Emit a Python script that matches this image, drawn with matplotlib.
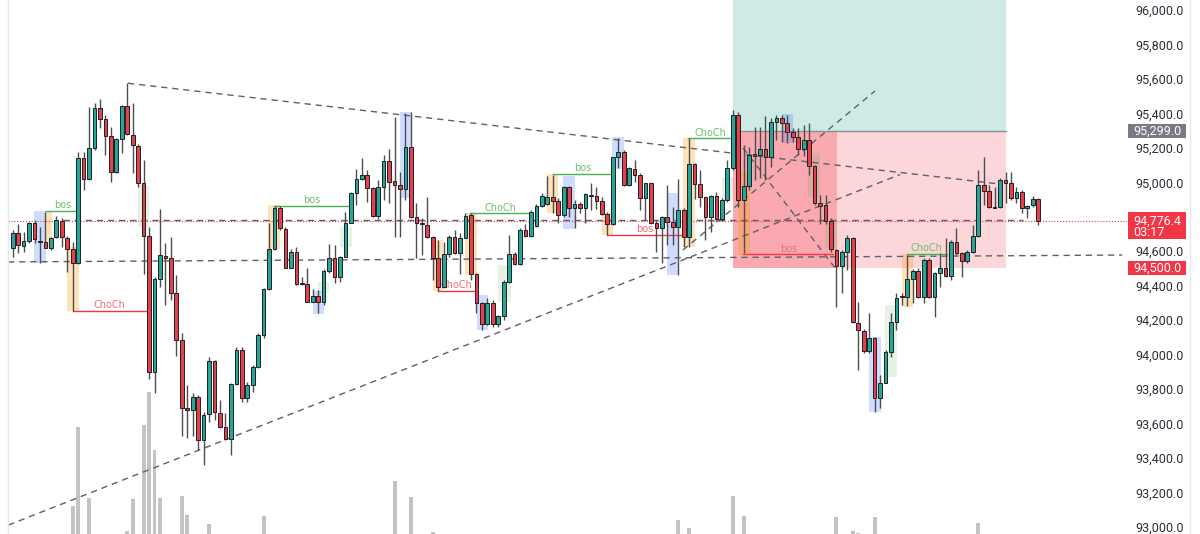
import matplotlib
matplotlib.use("Agg")
import matplotlib.pyplot as plt
import matplotlib.transforms as mtransforms
from matplotlib.patches import Rectangle
from matplotlib.lines import Line2D
import numpy as np

# ---------------- data ----------------
opens = [94617,94704,94633,94660,94766,94662,94652,94621,94681,94778,
         94679,94612,94530,95143,95018,95198,95430,95366,95269,95062,
         95250,95443,95275,95213,94994,94691,93902,94439,94575,94559,
         94356,94085,93689,93679,93757,93505,93654,93964,93664,93583,
         93509,93830,94027,93747,93824,93931,94114,94379,94612,94853,
         94729,94505,94598,94410,94410,94308,94341,94308,94488,94559,
         94453,94569,94766,94936,95018,95043,94965,94805,94975,95124,
         95008,94985,94960,95203,94797,94766,94753,94685,94559,94391,
         94583,94685,94592,94679,94811,94468,94298,94178,94298,94178,
         94225,94424,94583,94526,94724,94689,94747,94863,94875,94917,
         94892,94811,94971,94853,94875,94849,94927,94921,94892,94815,
         94759,95149,95178,94985,95078,95043,94907,94995,94762,94733,
         94801,94768,94739,94840,94681,95107,94990,94913,94801,94921,
         94786,94898,95081,95391,94898,94979,95163,95159,95192,95145,
         95352,95372,95343,95294,95265,95192,95246,95095,94878,94869,
         94778,94608,94517,94598,94675,94186,94140,94024,94095,93747,
         93838,94018,94192,94333,94337,94437,94487,94333,94549,94337,
         94476,94505,94456,94656,94592,94545,94598,94689,94984,94952,
         94859,94855,95013,94994,94907,94946,94849,94868,94901]
highs = [94724,94759,94714,94772,94782,94743,94830,94685,94805,94791,
         94689,94652,95178,95178,95435,95459,95482,95391,95323,95256,
         95449,95575,95462,95223,95130,94743,94453,94844,94646,94685,
         94463,94124,93824,93776,93766,93670,93989,93969,93737,93660,
         93834,94047,94047,93844,93940,94124,94385,94762,94863,94863,
         94743,94612,94623,94453,94501,94379,94376,94495,94642,94637,
         94573,94830,94946,95076,95139,95072,94975,95014,95159,95192,
         95381,95062,95401,95410,94878,94791,94913,94689,94666,94656,
         94695,94724,94704,94820,94820,94472,94308,94327,94318,94231,
         94434,94695,94598,94733,94759,94840,94875,94936,95037,95043,
         94907,94979,94979,94898,94888,94936,94995,94975,94913,94830,
         95149,95255,95188,95091,95130,95052,94998,94998,94782,94805,
         94985,94859,95018,94849,95255,95110,95072,94917,94927,94946,
         94907,95130,95420,95410,95217,95207,95323,95323,95385,95372,
         95391,95391,95391,95314,95314,95333,95343,95101,94927,94927,
         94791,94612,94608,94695,94681,94308,94147,94240,94101,93882,
         94027,94240,94356,94356,94578,94495,94501,94559,94559,94482,
         94588,94675,94666,94733,94598,94607,94752,95071,95145,94984,
         94975,95023,95062,95062,94975,94955,94868,94921,94907]
lows = [94569,94592,94598,94646,94646,94534,94617,94608,94675,94627,
        94482,94256,94526,94956,95014,95188,95313,95159,95004,95052,
        95172,95275,95056,94975,94468,93859,93776,94395,94289,94318,
        93993,93525,93515,93525,93447,93360,93612,93621,93573,93505,
        93418,93824,93728,93728,93786,93921,94095,94376,94608,94724,
        94501,94501,94405,94405,94308,94304,94240,94288,94472,94414,
        94424,94565,94762,94869,95014,94888,94801,94790,94898,94882,
        94685,94681,94898,94791,94559,94579,94675,94434,94372,94385,
        94569,94584,94468,94675,94434,94240,94143,94172,94163,94163,
        94202,94418,94521,94521,94681,94685,94743,94859,94869,94824,
        94762,94801,94801,94733,94820,94766,94840,94844,94811,94695,
        94753,95081,94979,94979,95004,94840,94782,94759,94598,94534,
        94637,94637,94465,94627,94627,94902,94855,94665,94714,94778,
        94778,94888,95072,94859,94588,94956,95014,95023,95014,95091,
        95246,95236,95230,95236,95159,95153,95043,94869,94759,94759,
        94598,94279,94356,94492,94186,93911,94008,94008,93670,93689,
        93834,93989,94143,94288,94282,94298,94327,94302,94327,94220,
        94395,94449,94433,94578,94449,94534,94592,94685,94868,94849,
        94849,94849,94878,94897,94878,94820,94791,94859,94752]
closes = [94708,94637,94658,94766,94670,94654,94621,94679,94782,94681,
          94612,94530,95139,95018,95198,95430,95366,95269,95062,95250,
          95443,95279,95215,94994,94691,93902,94439,94579,94559,94356,
          94085,93689,93679,93757,93505,93650,93964,93670,93583,93509,
          93828,94027,93747,93824,93931,94114,94379,94612,94853,94733,
          94505,94598,94408,94408,94308,94341,94308,94488,94559,94453,
          94565,94766,94936,95018,95043,94965,94805,94975,95124,95004,
          94985,94960,95203,94797,94766,94759,94685,94559,94391,94583,
          94685,94592,94679,94805,94468,94298,94178,94298,94178,94225,
          94424,94583,94526,94724,94689,94830,94863,94921,94913,94892,
          94811,94971,94853,94875,94849,94931,94923,94892,94815,94759,
          95145,95178,94985,95081,95043,94907,94995,94762,94733,94801,
          94768,94739,94840,94681,95107,94990,94913,94801,94921,94786,
          94898,95081,95391,94898,94979,95159,95155,95192,95145,95352,
          95372,95343,95294,95265,95192,95246,95095,94878,94863,94778,
          94612,94517,94598,94675,94192,94143,94024,94095,93747,93838,
          94018,94192,94327,94337,94437,94487,94333,94549,94337,94476,
          94505,94456,94656,94592,94545,94598,94689,94984,94952,94855,
          94853,95013,94994,94907,94946,94849,94863,94901,94776.4]

# visible volume bars (bar index, volume)
vol_idx = [11, 12, 14, 21, 22, 24, 25, 26, 27, 31, 32, 36, 46, 70, 73, 77,
           122, 124, 132, 134, 151, 154, 155, 158, 177]
vol_val = [283, 1067, 363, 30, 350, 1087, 1420, 840, 363, 380, 190, 100, 180,
           530, 370, 17, 140, 60, 383, 180, 173, 33, 10, 173, 113]

price_ticks = list(range(93000, 96001, 200))

# order-block style boxes: (start bar, end bar, low, high)
blue_boxes = [(3.96, 6.05, 94532, 94834), (55.0, 57.07, 94236, 94371),
              (71.0, 73.14, 94907, 95410), (85.06, 87.08, 94143, 94346),
              (100.94, 103.08, 94727, 95037), (109.92, 112.06, 95077, 95261),
              (119.89, 122.02, 94462, 94936), (140.97, 143.1, 95230, 95396),
              (156.98, 159.12, 93669, 94101)]
orange_boxes = [(6.05, 7.15, 94617, 94834), (10.01, 12.15, 94255, 94626),
                (46.86, 49.0, 94611, 94868), (77.0, 78.94, 94371, 94665),
                (82.92, 85.17, 94462, 94820), (97.89, 100.0, 94820, 95048),
                (107.97, 110.1, 94694, 94820), (122.93, 125.08, 94626, 95255),
                (133.02, 135.16, 94578, 95062), (162.97, 165.1, 94278, 94584)]
green_boxes = [(23.0, 24.99, 94742, 94984), (60.0, 62.14, 94626, 94742),
               (55.97, 57.99, 94358, 94423), (89.02, 91.29, 94307, 94520),
               (129.97, 132.1, 94897, 95033), (145.8, 148.0, 94915, 95170),
               (148.9, 151.05, 94617, 94772), (159.9, 162.05, 93872, 94288)]

# structure breaks
struct_start = [6.05, 11.0, 47.96, 83.83, 78.02, 99.1, 108.9, 123.85, 133.93, 163.9]
struct_end = [12.15, 24.56, 61.83, 94.83, 84.75, 109.99, 122.93, 132.1, 150.43, 171.2]
struct_price = [94834, 94255, 94864, 94820, 94371, 95048, 94694, 95255, 94582, 94584]
struct_label = ["bos", "ChoCh", "bos", "ChoCh", "ChoCh", "bos", "bos", "ChoCh", "bos", "ChoCh"]
struct_bull = [True, False, True, True, False, True, False, True, False, True]

# dashed trend lines: (bar0, price0, bar1, price1)
trend_lines = [(21.14, 95575, 181.0, 94990),
               (-0.8, 93011, 162.66, 95045),
               (122.87, 94607, 158.08, 95530),
               (133.9, 95199, 150.75, 94503)]
hlines_dashed = [(9.22, 94781, 185.2, 94781),
                 (-0.86, 94538, 203.4, 94578)]

# position tool
pos_start, pos_end = 132.05, 182.1
entry_price = 95299.0
stop_price = 94500.0
tp_top = 96100
dark_end = 151.05
last_price = 94776.4
countdown = "03:17"

# ---------------- figure ----------------
W, H = 1200, 534
fig = plt.figure(figsize=(W / 100, H / 100), dpi=100)
fig.patch.set_facecolor("white")
axw = 1127 / W
axv = fig.add_axes([0, 0, axw, 1])
ax = fig.add_axes([0, 0, axw, 1], sharex=axv)
ax.patch.set_alpha(0)
xmin, xmax = -2.328, 204.27
ymin, ymax = 92959.2, 96058
ax.set_xlim(xmin, xmax)
ax.set_ylim(ymin, ymax)

# volume
axv.bar(vol_idx, vol_val, width=0.72, color="#c3c3c3", zorder=1)
axv.set_ylim(0, 5340)
axv.axis("off")

for s in ax.spines.values():
    s.set_visible(False)
ax.tick_params(axis="x", bottom=False, labelbottom=False)
ax.yaxis.tick_right()
ax.set_yticks(price_ticks)
# the 94,800 label sits under the last-price tag, so it is hidden there
ax.set_yticklabels(["" if abs(p - last_price) < 60 else f"{p:,.1f}" for p in price_ticks])
ax.tick_params(axis="y", length=0, pad=6, labelsize=9, labelcolor="#2a2e39")
for lab in ax.get_yticklabels():
    lab.set_fontfamily(["Roboto", "DejaVu Sans"])

# position zones
ax.add_patch(Rectangle((pos_start, entry_price), pos_end - pos_start, tp_top - entry_price,
                       facecolor="#089981", alpha=0.2, edgecolor="none", zorder=0.5))
ax.add_patch(Rectangle((pos_start, stop_price), pos_end - pos_start, entry_price - stop_price,
                       facecolor="#f23645", alpha=0.2, edgecolor="none", zorder=0.5))
ax.add_patch(Rectangle((pos_start, stop_price), dark_end - pos_start, entry_price - stop_price,
                       facecolor="#f23645", alpha=0.28, edgecolor="none", zorder=0.6))
ax.plot([pos_start, pos_end], [entry_price, entry_price], color="#8a8d96", lw=1, zorder=0.7)

# boxes
for (a, b, lo, hi) in blue_boxes:
    ax.add_patch(Rectangle((a, lo), b - a, hi - lo, facecolor="#2962ff", alpha=0.22,
                           edgecolor="none", zorder=1))
for (a, b, lo, hi) in orange_boxes:
    ax.add_patch(Rectangle((a, lo), b - a, hi - lo, facecolor="#ff9800", alpha=0.28,
                           edgecolor="none", zorder=1))
for (a, b, lo, hi) in green_boxes:
    ax.add_patch(Rectangle((a, lo), b - a, hi - lo, facecolor="#4caf50", alpha=0.15,
                           edgecolor="none", zorder=1))

# dashed lines
for (x0, y0, x1, y1) in trend_lines + hlines_dashed:
    ax.plot([x0, x1], [y0, y1], color="#5d606b", lw=1.0, linestyle=(0, (4.5, 3.5)), zorder=2)

# last price dotted line
ax.plot([-0.86, xmax], [last_price, last_price], color="#f23645", lw=0.8,
        linestyle=(0, (1, 1.6)), zorder=2)

# structure lines
for a, b, p, lab, bull in zip(struct_start, struct_end, struct_price, struct_label, struct_bull):
    c = "#4caf50" if bull else "#f23645"
    tc = "#6cc070" if bull else "#f06b76"
    ax.plot([a, b], [p, p], color=c, lw=1.0, zorder=2.2)
    ax.text((a + b) / 2, p + 4, lab, color=tc, fontsize=7, ha="center", va="bottom",
            zorder=2.3)

# candles
x = np.arange(len(opens))
o = np.array(opens, float); h = np.array(highs, float)
l = np.array(lows, float); c = np.array(closes, float)
up = c >= o
cols = np.where(up, "#26a69a", "#e5404d")
ax.vlines(x, l, h, color="#4d4d4d", lw=1.0, zorder=3)
bottoms = np.minimum(o, c)
heights = np.maximum(np.abs(c - o), 6)
ax.bar(x, heights, bottom=bottoms, width=0.68, color=cols, edgecolor="#202020",
       linewidth=0.7, zorder=4)

# price labels on the scale
tr = mtransforms.blended_transform_factory(ax.transAxes, ax.transData)
lx0 = 1128 / 1127
lw_ = 58 / 1127
ppx = (ymax - ymin) / H
def tag(top_px, bot_px, price, color):
    ax.add_patch(Rectangle((lx0, price - bot_px * ppx), lw_, (top_px + bot_px) * ppx,
                           transform=tr, facecolor=color, edgecolor="none",
                           clip_on=False, zorder=6))
def tag_text(price, text):
    ax.text(1133 / 1127, price, text, transform=tr, color="white", fontsize=9,
            va="center", ha="left", clip_on=False, zorder=7,
            fontfamily=["Roboto", "DejaVu Sans"])

tag(7, 7, entry_price, "#787b86")
tag_text(entry_price, f"{entry_price:,.1f}")
tag(9, 18, last_price, "#f23645")
tag_text(last_price, f"{last_price:,.1f}")
tag_text(last_price - 11.5 * ppx, countdown)
tag(7, 7, stop_price, "#f23645")
tag_text(stop_price, f"{stop_price:,.1f}")

# panel borders
fig.add_artist(Line2D([8 / W, 8 / W], [0, 1], color="#e6e8ee", lw=1))
fig.add_artist(Line2D([1190 / W, 1190 / W], [0, 1], color="#e6e8ee", lw=1))

fig.savefig("out.png", dpi=100, facecolor="white")
